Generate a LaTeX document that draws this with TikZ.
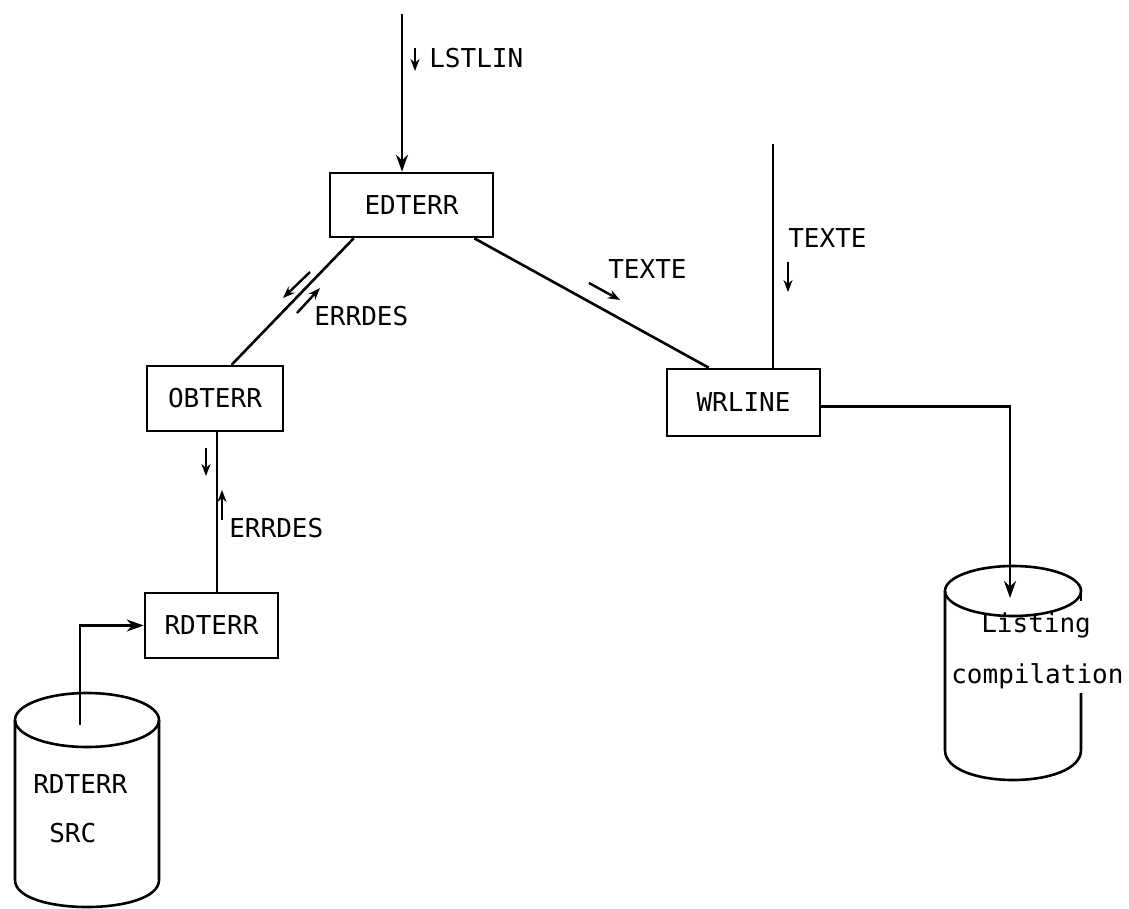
\documentclass[tikz,border=0pt]{standalone}
\usepackage{fontspec}
\newfontfamily\tw{DejaVu Sans Mono}
\usetikzlibrary{arrows.meta,calc}
\begin{document}
\begin{tikzpicture}[x=1pt,y=-1pt,line width=2.6pt,
  box/.style={draw,rectangle,inner sep=0pt,font=\tw\fontsize{26}{30}\selectfont},
  lbl/.style={anchor=base west,inner sep=0pt,font=\tw\fontsize{26}{30}\selectfont},
  mainarrow/.style={-{Stealth[length=17pt,width=12pt]}},
  flow/.style={line width=2.4pt,-{Stealth[length=12pt,width=9pt]}}]
\fill[white] (0,0) rectangle (1129,908);
\useasboundingbox (0,0) rectangle (1129,908);

% boxes
\node[box,minimum width=163pt,minimum height=64pt] (edterr) at (411.5,205) {EDTERR};
\node[box,minimum width=136pt,minimum height=65pt] (obterr) at (215,398.5) {OBTERR};
\node[box,minimum width=133pt,minimum height=65pt] (rdterr) at (211.5,625.5) {RDTERR};
\node[box,minimum width=153pt,minimum height=67pt] (wrline) at (743.5,402.5) {WRLINE};

% labels
\node[lbl] (llstlin) at (428,67) {LSTLIN};
\node[lbl] (lerrdes1) at (313,325) {ERRDES};
\node[lbl] (lerrdes2) at (228,537) {ERRDES};
\node[lbl] (ltexte1) at (607,278) {TEXTE};
\node[lbl] (ltexte2) at (787,247) {TEXTE};
\node[lbl] (lsrc1) at (32,793) {RDTERR};
\node[lbl] (lsrc2) at (48,842) {SRC};
\node[lbl] (llist1) at (980,632) {Listing};
\node[lbl] (llist2) at (950,683) {compilation};

% cylinders
\draw (87,720) ellipse [x radius=72, y radius=27];
\draw (15,720) -- (15,880) .. controls (15,916) and (159,916) .. (159,880) -- (159,720);
\draw (1013,591) ellipse [x radius=68, y radius=25];
\draw (945,591) -- (945,750) .. controls (945,790) and (1081,790) .. (1081,750) -- (1081,693);
\draw (1081,591) -- (1081,601);

% free ends
\coordinate (ltop) at (402,14);
\coordinate (ttop) at (773,144);
\coordinate (srcin) at (80,725);
\coordinate (lstin) at (1010,598);

% connectors
\draw[mainarrow] (ltop) -- (ltop |- edterr.north);
\draw ($(edterr.south west)+(25,0)$) -- ($(obterr.north west)+(86,0)$);
\draw ($(obterr.south)+(2,0)$) -- ($(rdterr.north)+(5.5,0)$);
\draw[mainarrow] (srcin) |- (rdterr.west);
\draw ($(edterr.south east)+(-20,0)$) -- ($(wrline.north west)+(43,0)$);
\draw (ttop) -- (ttop |- wrline.north);
\draw[mainarrow] ($(wrline.east)+(0,4)$) -| (lstin);

% flow marks
\draw[flow] (415,48) -- (415,71);
\draw[flow] (310,272) -- (283,298);
\draw[flow] (297,313) -- (320,288);
\draw[flow] (206,448) -- (206,476);
\draw[flow] (222,520) -- (222,490);
\draw[flow] (589,283) -- (620,300);
\draw[flow] (788,262) -- (788,292);
\end{tikzpicture}
\end{document}
